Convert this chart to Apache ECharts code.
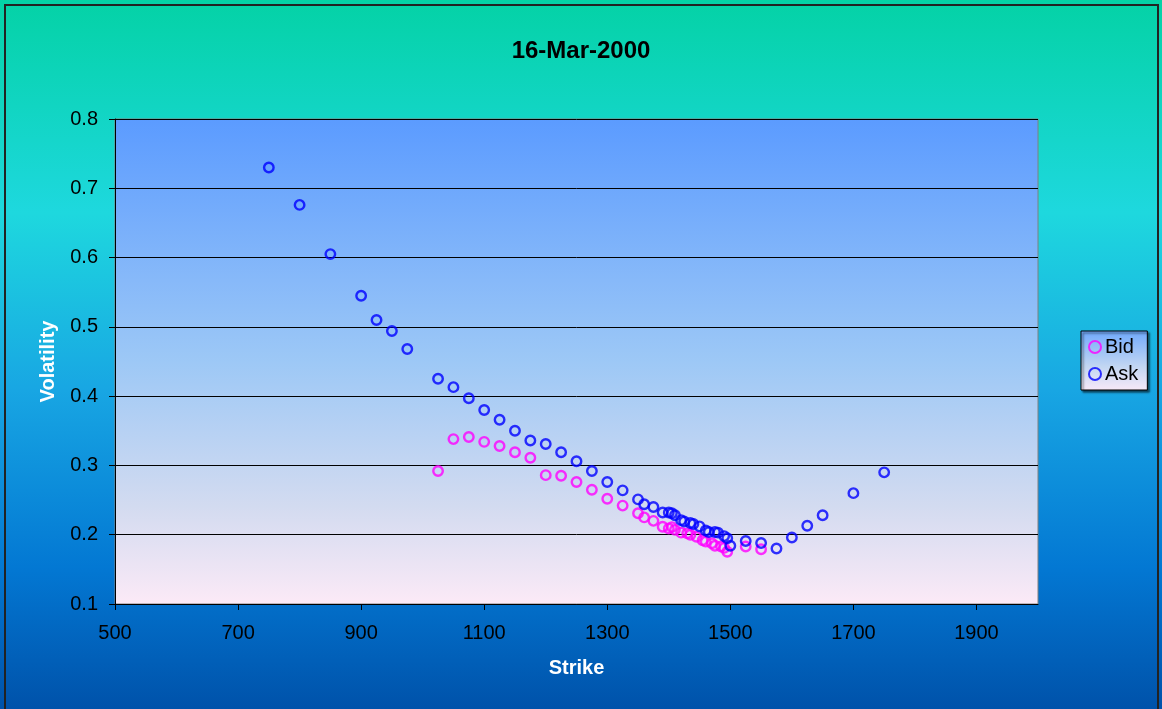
<!DOCTYPE html>
<html>
<head>
<meta charset="utf-8">
<title>16-Mar-2000</title>
<script src="https://cdn.jsdelivr.net/npm/echarts@6/dist/echarts.min.js"></script>
<style>
  html, body { margin: 0; padding: 0; background: #fff; }
  #main { width: 1162px; height: 709px; }
</style>
</head>
<body>
<div id="main"></div>
<script>
// strikes / vols
var bidStrike = [1025, 1050, 1075, 1100, 1125, 1150, 1175, 1200, 1225, 1250, 1275, 1300, 1325, 1350, 1360, 1375, 1390, 1400, 1405, 1410, 1420, 1430, 1435, 1445, 1455, 1460, 1470, 1475, 1485, 1490, 1495, 1525, 1550];
var bidVol = [0.292, 0.338, 0.341, 0.334, 0.328, 0.319, 0.311, 0.286, 0.285, 0.276, 0.265, 0.252, 0.242, 0.231, 0.225, 0.220, 0.2115, 0.209, 0.211, 0.207, 0.203, 0.202, 0.200, 0.197, 0.192, 0.190, 0.1876, 0.184, 0.183, 0.181, 0.1755, 0.183, 0.179];

var askStrike = [750, 800, 850, 900, 925, 950, 975, 1025, 1050, 1075, 1100, 1125, 1150, 1175, 1200, 1225, 1250, 1275, 1300, 1325, 1350, 1360, 1375, 1390, 1400, 1405, 1410, 1420, 1425, 1435, 1440, 1450, 1460, 1465, 1475, 1480, 1490, 1495, 1500, 1525, 1550, 1575, 1600, 1625, 1650, 1700, 1750];
var askVol = [0.730, 0.676, 0.605, 0.545, 0.510, 0.494, 0.468, 0.425, 0.413, 0.397, 0.380, 0.366, 0.350, 0.336, 0.331, 0.319, 0.306, 0.292, 0.276, 0.264, 0.251, 0.244, 0.240, 0.232, 0.232, 0.231, 0.228, 0.221, 0.219, 0.217, 0.2155, 0.212, 0.206, 0.204, 0.204, 0.203, 0.198, 0.195, 0.184, 0.191, 0.188, 0.180, 0.196, 0.213, 0.228, 0.260, 0.290];

var seriesNames = ['Bid', 'Ask'];
var chartTitle = '16-Mar-2000';
var FONT = 'Arial, "Liberation Sans", sans-serif';

function pairs(xs, ys) {
	var out = [];
	for (var i = 0; i < xs.length; i++) {
		out.push([xs[i], ys[i]]);
	}
	return out;
}

function ring(color) {
	return {
		color: 'rgba(0,0,0,0)',
		borderColor: color,
		borderWidth: 2.4
	};
}

var myChart = echarts.init(document.getElementById('main'));
var option = {
	animation: false,
	backgroundColor: {
		type: 'linear', x: 0, y: 0, x2: 0, y2: 1,
		colorStops: [
			{ offset: 0, color: '#04D2A6' },
			{ offset: 0.3, color: '#1ED8DE' },
			{ offset: 0.55, color: '#18A6E3' },
			{ offset: 0.8, color: '#0378D3' },
			{ offset: 1, color: '#0052AA' }
		]
	},
	title: {
		text: chartTitle,
		left: 'center',
		top: 34,
		textStyle: {
			fontFamily: FONT,
			fontSize: 24,
			fontWeight: 'bold',
			color: '#000'
		}
	},
	legend: {
		orient: 'vertical',
		left: 1081,
		top: 331,
		itemWidth: 12,
		itemHeight: 12,
		itemGap: 7,
		padding: [6, 9, 6, 7],
		borderColor: '#000',
		borderWidth: 1,
		shadowColor: 'rgba(0,0,0,0.6)',
		shadowOffsetX: 2,
		shadowOffsetY: 2,
		shadowBlur: 2,
		backgroundColor: {
			type: 'linear', x: 0, y: 0, x2: 0, y2: 1,
			colorStops: [
				{ offset: 0, color: '#6FA9FC' },
				{ offset: 0.6, color: '#C2D6F2' },
				{ offset: 1, color: '#F8E9F8' }
			]
		},
		textStyle: {
			fontFamily: FONT,
			fontSize: 20,
			color: '#000',
			padding: [0, 0, 0, -1]
		},
		data: [
			{ name: seriesNames[0], icon: 'circle' },
			{ name: seriesNames[1], icon: 'circle' }
		]
	},
	grid: {
		left: 115,
		right: 124,
		top: 119,
		bottom: 105,
		show: true,
		borderColor: '#808080',
		borderWidth: 1,
		backgroundColor: {
			type: 'linear', x: 0, y: 0, x2: 0, y2: 1,
			colorStops: [
				{ offset: 0, color: '#5B9BFF' },
				{ offset: 0.5, color: '#9DC8F6' },
				{ offset: 0.8, color: '#D3DBF0' },
				{ offset: 1, color: '#FCEAF7' }
			]
		}
	},
	xAxis: {
		type: 'value',
		min: 500,
		max: 2000,
		interval: 200,
		name: 'Strike',
		nameLocation: 'middle',
		nameGap: 54,
		nameTextStyle: {
			fontFamily: FONT,
			fontSize: 20,
			fontWeight: 'bold',
			color: '#fff'
		},
		axisLine: { show: true, lineStyle: { color: '#000', width: 1 } },
		axisTick: { show: true, length: 6, lineStyle: { color: '#000' } },
		axisLabel: {
			showMaxLabel: false,
			margin: 19,
			fontFamily: FONT,
			fontSize: 20,
			color: '#000',
			formatter: function (v) { return String(v); }
		},
		splitLine: { show: false }
	},
	yAxis: {
		type: 'value',
		min: 0.1,
		max: 0.8,
		interval: 0.1,
		name: 'Volatility',
		nameLocation: 'middle',
		nameGap: 57,
		nameTextStyle: {
			fontFamily: FONT,
			fontSize: 20,
			fontWeight: 'bold',
			color: '#fff'
		},
		axisLine: { show: true, lineStyle: { color: '#000', width: 1 } },
		axisTick: { show: true, length: 6, lineStyle: { color: '#000' } },
		axisLabel: {
			margin: 17,
			fontFamily: FONT,
			fontSize: 20,
			color: '#000',
			formatter: function (v) { return (Math.round(v * 10) / 10).toString(); }
		},
		splitLine: { show: true, lineStyle: { color: '#000', width: 1 } }
	},
	graphic: [{
		type: 'rect',
		z: 100,
		shape: { x: 5, y: 5, width: 1153, height: 720 },
		style: { fill: 'none', stroke: '#222', lineWidth: 2 }
	}],
	series: [{
		name: seriesNames[0],
		type: 'scatter',
		symbol: 'circle',
		symbolSize: 9.5,
		itemStyle: ring('#FF00FF'),
		data: pairs(bidStrike, bidVol)
	}, {
		name: seriesNames[1],
		type: 'scatter',
		symbol: 'circle',
		symbolSize: 9.5,
		itemStyle: ring('#0000FF'),
		data: pairs(askStrike, askVol)
	}]
};
myChart.setOption(option);
</script>
</body>
</html>
